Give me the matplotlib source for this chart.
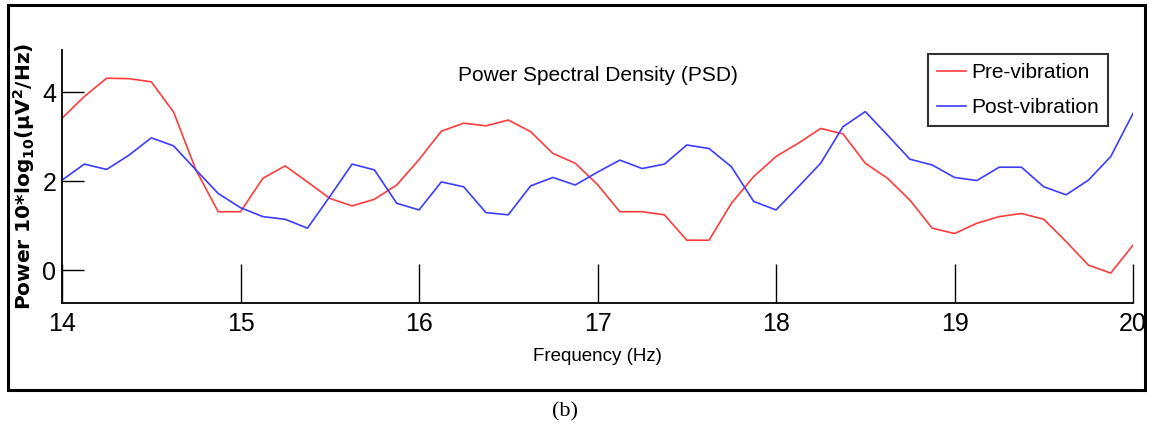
import numpy as np
import matplotlib
matplotlib.use("Agg")
import matplotlib.pyplot as plt
from matplotlib.patches import Rectangle

# frequency bins (Hz) and PSD values
freq = [14.0 + 0.125 * k for k in range(49)]

pre_vib = [3.41, 3.90, 4.31, 4.30, 4.23, 3.55, 2.25, 1.31, 1.31, 2.06,
           2.34, 1.98, 1.61, 1.44, 1.59, 1.91, 2.48, 3.12, 3.30, 3.24,
           3.37, 3.11, 2.62, 2.40, 1.92, 1.31, 1.31, 1.24, 0.67, 0.67,
           1.50, 2.10, 2.55, 2.85, 3.18, 3.06, 2.40, 2.06, 1.57, 0.94,
           0.82, 1.05, 1.20, 1.27, 1.14, 0.64, 0.11, -0.07, 0.56]

post_vib = [2.02, 2.38, 2.26, 2.58, 2.97, 2.79, 2.25, 1.72, 1.40, 1.20,
            1.14, 0.94, 1.65, 2.38, 2.25, 1.50, 1.35, 1.98, 1.87, 1.29,
            1.24, 1.89, 2.08, 1.91, 2.20, 2.47, 2.28, 2.38, 2.81, 2.73,
            2.32, 1.54, 1.35, 1.87, 2.40, 3.22, 3.56, 3.03, 2.49, 2.36,
            2.08, 2.01, 2.31, 2.31, 1.87, 1.69, 2.02, 2.55, 3.52]

xticks = [14, 15, 16, 17, 18, 19, 20]
yticks = [0, 2, 4]

font = ['Liberation Sans', 'DejaVu Sans']

fig = plt.figure(figsize=(11.55, 4.26), dpi=100)
ax = fig.add_axes([0.0537, 0.2894, 0.9273, 0.5932])

ax.plot(freq, pre_vib, color='#ff3c3c', lw=1.2, label='Pre-vibration')
ax.plot(freq, post_vib, color='#3c3cff', lw=1.2, label='Post-vibration')

ax.set_xlim(14, 20)
ax.set_ylim(-0.735, 4.944)
ax.set_xticks(xticks)
ax.set_yticks(yticks)

ax.spines['top'].set_visible(False)
ax.spines['right'].set_visible(False)
ax.spines['left'].set_linewidth(1.3)
ax.spines['bottom'].set_linewidth(1.3)

ax.tick_params(axis='x', direction='in', length=28, width=1, pad=7)
ax.tick_params(axis='y', direction='in', length=16, width=1, pad=4)
for lab in ax.get_xticklabels() + ax.get_yticklabels():
    lab.set_family(font)
    lab.set_fontsize(18)

ax.set_xlabel('Frequency (Hz)', family=font, fontsize=13.5, labelpad=8)
ax.set_ylabel(r'Power 10*log$_{\mathbf{10}}$($\mathbf{\mu V^2/Hz}$)', fontsize=14.5,
              fontweight='bold', labelpad=4)

ax.text(0.5, 0.9, 'Power Spectral Density (PSD)', transform=ax.transAxes,
        ha='center', va='center', family=font, fontsize=15)

leg = ax.legend(loc='upper right', bbox_to_anchor=(0.977, 0.985),
                prop={'family': font, 'size': 15}, handlelength=1.4,
                handletextpad=0.25, borderpad=0.45, labelspacing=0.75,
                borderaxespad=0, fancybox=False, framealpha=1)
leg.get_frame().set_edgecolor('#333333')
leg.get_frame().set_linewidth(1.5)

# outer frame and caption
fig.patches.append(Rectangle((8 / 1155, 1 - 390 / 426), 1137 / 1155, 385 / 426,
                             transform=fig.transFigure, fill=False,
                             edgecolor='black', lw=2.2))
fig.text(565 / 1155, 1 - 412 / 426, '(b)', ha='center', va='center',
         family='Liberation Serif', fontsize=16)

fig.savefig('out.png', dpi=100)
